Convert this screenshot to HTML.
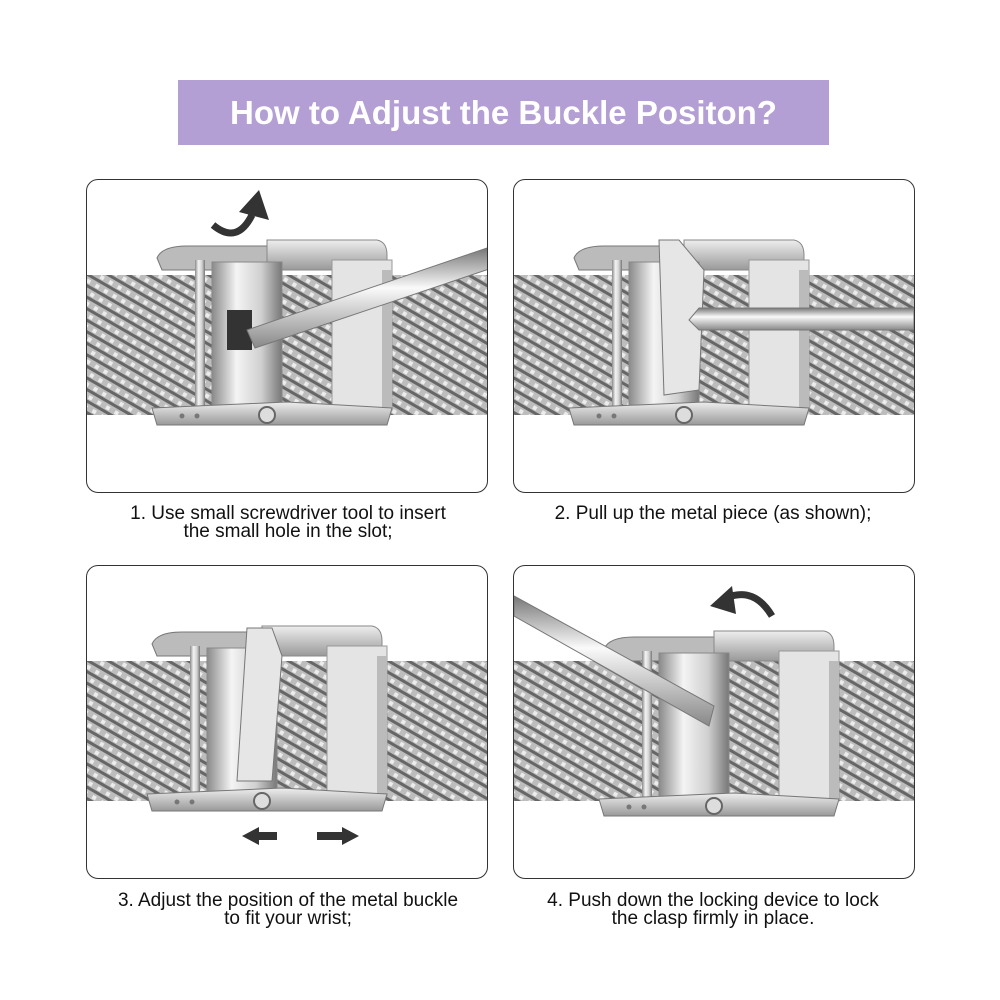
<!DOCTYPE html>
<html><head><meta charset="utf-8"><style>
body{margin:0;background:#fff;width:1000px;height:1000px;position:relative;font-family:"Liberation Sans",sans-serif;overflow:hidden}
.title{position:absolute;left:178px;top:80px;width:651px;height:65px;background:#b39fd4;color:#fff;font-weight:bold;font-size:33px;text-align:center;line-height:65px}
.panel{position:absolute;width:400px;height:312px;border:1.5px solid #333;border-radius:12px;overflow:hidden;background:#fff}
.cap{position:absolute;width:440px;text-align:center;font-size:19px;line-height:18px;color:#111}
</style></head><body>
<div class="title">How to Adjust the Buckle Positon?</div>
<svg width="0" height="0" style="position:absolute"><defs>
<pattern id="mesh" width="10" height="10" patternUnits="userSpaceOnUse" patternTransform="rotate(30)">
<rect width="10" height="10" fill="#bdbdbd"/><rect width="10" height="3" fill="#666"/><rect y="5" width="4" height="4" fill="#ececec"/></pattern>
<linearGradient id="cyl" x1="0" x2="1"><stop offset="0" stop-color="#8a8a8a"/><stop offset=".35" stop-color="#f4f4f4"/><stop offset=".7" stop-color="#d0d0d0"/><stop offset="1" stop-color="#777"/></linearGradient>
<linearGradient id="plate" x1="0" x2="0" y1="0" y2="1"><stop offset="0" stop-color="#eee"/><stop offset="1" stop-color="#999"/></linearGradient>
<linearGradient id="rod" x1="0" x2="0" y1="0" y2="1"><stop offset="0" stop-color="#777"/><stop offset=".4" stop-color="#fafafa"/><stop offset="1" stop-color="#888"/></linearGradient>
<g id="buckle">
<path d="M70 78 Q75 66 100 66 L180 66 Q210 68 215 80 L205 90 L75 90Z" fill="#bbb" stroke="#777"/>
<path d="M180 60 L290 60 Q300 62 300 75 L300 90 L180 90Z" fill="url(#plate)" stroke="#888"/>
<rect x="108" y="80" width="10" height="148" fill="url(#cyl)"/>
<rect x="125" y="82" width="70" height="146" fill="url(#cyl)" stroke="#888"/>
<rect x="245" y="80" width="60" height="150" fill="#e4e4e4" stroke="#999"/>
<rect x="295" y="90" width="10" height="140" fill="#bbb"/>
<path d="M65 228 L200 222 L305 228 L300 245 L70 245Z" fill="url(#plate)" stroke="#777"/>
<circle cx="180" cy="235" r="8" fill="#ddd" stroke="#666" stroke-width="2"/>
<circle cx="95" cy="236" r="2.5" fill="#777"/><circle cx="110" cy="236" r="2.5" fill="#777"/>
</g>
</defs></svg>

<div class="panel" style="left:86px;top:179px"><svg width="400" height="312">
<rect x="0" y="95" width="400" height="140" fill="url(#mesh)"/>
<use href="#buckle" x="0" y="0"/>
<rect x="140" y="130" width="25" height="40" fill="#333"/>
<path d="M160 150 L400 68 L405 88 L168 168Z" fill="url(#rod)" stroke="#777"/>
<path d="M126 45 Q150 65 165 35" fill="none" stroke="#333" stroke-width="7"/>
<path d="M152 32 L172 10 L182 40Z" fill="#333"/>
</svg></div>
<div class="cap" style="left:68px;top:505px">1. Use small screwdriver tool to insert<br>the small hole in the slot;</div>

<div class="panel" style="left:513px;top:179px"><svg width="400" height="312">
<rect x="0" y="95" width="400" height="140" fill="url(#mesh)"/>
<use href="#buckle" x="-10" y="0"/>
<path d="M145 60 L165 60 L190 90 L185 210 L150 215Z" fill="#e6e6e6" stroke="#777"/>
<path d="M185 128 L400 128 L400 150 L185 150 L175 140Z" fill="url(#rod)" stroke="#777"/>
</svg></div>
<div class="cap" style="left:493px;top:505px">2. Pull up the metal piece (as shown);</div>

<div class="panel" style="left:86px;top:565px"><svg width="400" height="312">
<rect x="0" y="95" width="400" height="140" fill="url(#mesh)"/>
<use href="#buckle" x="-5" y="0"/>
<path d="M160 62 L185 62 L195 90 L185 215 L150 215Z" fill="#e6e6e6" stroke="#777"/>
<path d="M155 270 L172 261 L172 266 L190 266 L190 274 L172 274 L172 279Z" fill="#333"/>
<path d="M272 270 L255 261 L255 266 L230 266 L230 274 L255 274 L255 279Z" fill="#333"/>
</svg></div>
<div class="cap" style="left:68px;top:892px">3. Adjust the position of the metal buckle<br>to fit your wrist;</div>

<div class="panel" style="left:513px;top:565px"><svg width="400" height="312">
<rect x="0" y="95" width="400" height="140" fill="url(#mesh)"/>
<use href="#buckle" x="20" y="5"/>
<path d="M0 50 L0 30 L200 140 L195 160Z" fill="url(#rod)" stroke="#777"/>
<path d="M258 50 Q240 20 212 32" fill="none" stroke="#333" stroke-width="7"/>
<path d="M218 20 L196 40 L222 48Z" fill="#333"/>
</svg></div>
<div class="cap" style="left:493px;top:892px">4. Push down the locking device to lock<br>the clasp firmly in place.</div>
</body></html>
